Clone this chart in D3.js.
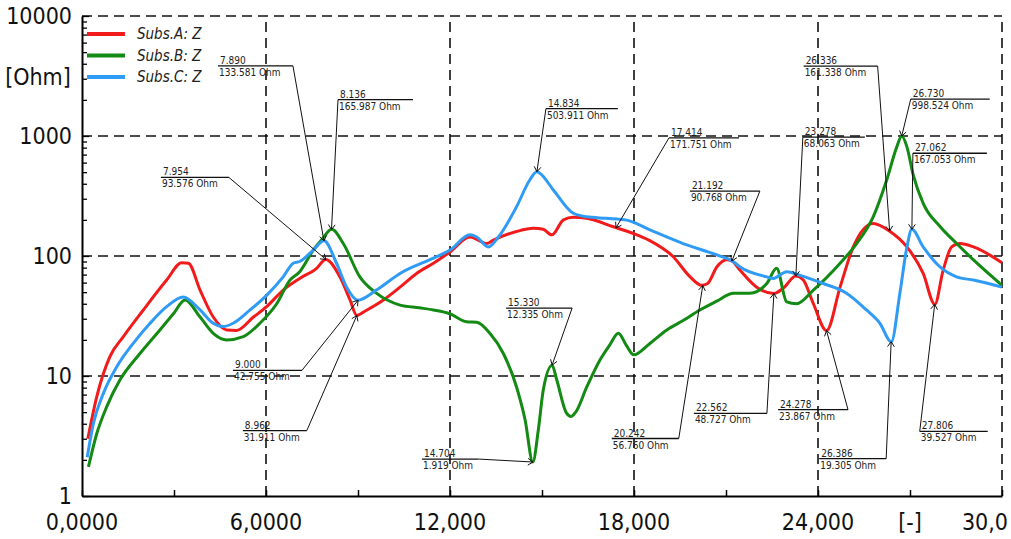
<!DOCTYPE html>
<html>
<head>
<meta charset="utf-8">
<script src="https://cdn.jsdelivr.net/npm/d3@7"></script>
<style>
  body { margin: 0; background: #fff; }
  svg { display: block; }
</style>
</head>
<body>
<div id="chart"></div>
<script>
// series: frequency [-] and impedance [Ohm]
const xA = [0.19,0.48,0.91,1.35,2.0,2.76,3.25,3.47,3.85,4.28,4.72,5.04,5.59,6.02,6.56,7.1,7.65,7.95,8.41,8.74,8.96,9.25,9.83,10.37,10.91,11.46,12.0,12.65,13.2,13.4,14.17,14.72,15.04,15.32,15.7,16.02,16.46,17.3,17.98,18.5,19.28,19.83,20.2,20.4,20.7,21.02,21.19,21.46,22.0,22.56,22.87,23.28,23.52,23.85,24.28,24.72,25.15,25.8,26.34,26.9,27.43,27.81,28.08,28.36,28.63,29.07,30.0];
const zA = [3.0,6.7,14.5,21.3,35.5,63,88,87,52,31,24.2,24,31,37.8,52,65,79,93.6,67,43,32,35,43,55,71.5,87,108,144,127,135,160,170,167,150,200,210,206,176,154,135,98.6,67,57,59,81,93,91,76,55,48.7,54,68,63,40,23.9,55,119,187,161,119,71.5,39.5,76,119,127,119,88];

const xB = [0.21,0.48,0.8,1.24,1.89,2.54,2.98,3.36,3.85,4.28,4.72,5.26,5.8,6.35,6.78,7.1,7.54,7.85,8.14,8.52,9.06,9.6,10.37,11.0,11.46,12.0,12.54,12.87,13.3,13.74,14.17,14.45,14.7,14.88,15.04,15.33,15.48,15.8,15.95,16.1,16.46,16.89,17.2,17.49,17.75,17.99,18.5,19.07,19.6,20.15,20.7,21.24,21.78,22.33,22.65,22.98,23.3,23.85,24.72,25.26,25.8,26.24,26.57,26.73,26.9,27.1,27.43,27.98,28.52,29.07,30.0];
const zB = [1.75,3.3,5.5,9.3,15.4,24.2,33,43,31,22.7,20,21.3,27.5,40,63,74,112,140,167,127,67,49,39,37,35.5,33,28.3,28,22.7,15.4,8.1,4.3,1.92,3.55,7.6,12.3,9.3,4.9,4.6,5.0,8.1,13.6,18,22.7,18,15,18.5,24.2,29,35.5,42,49,49,59,79,41.5,40,52,87,127,212,430,812,1000,812,480,275,176,127,92.8,57];

const xC = [0.17,0.37,0.7,1.13,1.67,2.22,2.76,3.3,3.85,4.28,4.6,4.93,5.48,6.02,6.56,6.89,7.1,7.54,7.89,8.3,8.63,9.0,9.6,10.37,11.46,12.0,12.65,12.87,13.25,13.58,14.17,14.6,14.83,14.93,15.37,16.02,16.46,17.1,17.76,18.52,19.6,20.7,21.24,21.46,22.33,22.54,22.98,23.41,24.17,24.93,25.58,26.02,26.39,26.67,26.9,27.06,27.43,27.98,28.52,29.07,30.0];
const zC = [2.1,4.0,7.2,11.9,18.7,27.5,37.8,45.6,35.5,27.5,25.8,27.5,35.5,47,67,87,90,112,134,87,55,42.8,52,71.5,96,112,150,144,119,144,257,430,504,490,355,227,212,206,199,165,127,102,89.5,81,67,65,74,69,59,49,35.5,27.5,19.3,49,119,167,119,81,67,63,55];

const seriesNames = ["Subs.A: Z", "Subs.B: Z", "Subs.C: Z"];
const seriesColors = ["#f21b1b", "#138a13", "#2f9bf5"];

// cursor readouts: series index, x, Z
const noteSeries = [2,1,0,2,0,2,0,0,1,2,2,0,1,1,0,0,0,2,0];
const noteX = [7.890,8.136,7.954,14.834,17.414,21.192,23.278,26.336,26.730,27.062,9.000,8.962,14.704,15.330,20.242,22.562,24.278,26.386,27.806];
const noteZ = [133.581,165.987,93.576,503.911,171.751,90.768,68.063,161.338,998.524,167.053,42.755,31.911,1.919,12.335,56.760,48.727,23.867,19.305,39.527];

const yTicks = [1, 10, 100, 1000, 10000];
const xTickVals = [0, 6, 12, 18, 24, 27, 30];
const xTickLabels = ["0,0000", "6,0000", "12,000", "18,000", "24,000", "[-]", "30,0"];

// label placement: offset of leader attach point from data point, underline width, side
const noteLayout = [
  [-31,-175,75,"r"],[6.5,-130,75,"l"],[-97,-82,68,"r"],[9,-63,72,"l"],[53,-90,70,"l"],
  [28,-70,70,"r"],[7,-139,62,"l"],[-12,-165,74,"r"],[9,-37,79,"l"],[1,-76,74,"l"],
  [-56,70,69,"r"],[-50,115,64,"r"],[-55,-3,56,"r"],[20,-57,66,"r"],[-24,153,67,"r"],
  [-7,120,73,"r"],[21.5,79,70,"r"],[-5,117,67,"r"],[-15,127,68,"l"]
];

const bigFont = "'DejaVu Sans Condensed', sans-serif";
const smallFont = "'DejaVu Sans Condensed', sans-serif";

const W = 1011, H = 539;
const margin = { top: 16, right: 9, bottom: 43, left: 82 };

const svg = d3.select('#chart').append('svg')
  .attr('width', W)
  .attr('height', H);

const x = d3.scaleLinear().domain([0, 30]).range([margin.left, W - margin.right]);
const y = d3.scaleLog().domain([1, 10000]).range([H - margin.bottom, margin.top]);

// dashed grid
svg.append('g').selectAll('line.gx')
  .data([6, 12, 18, 24, 30])
  .enter().append('line')
  .attr('x1', d => x(d)).attr('x2', d => x(d))
  .attr('y1', y(1)).attr('y2', y(10000))
  .attr('stroke', '#111').attr('stroke-width', 1.6)
  .attr('stroke-dasharray', '10,6');

svg.append('g').selectAll('line.gy')
  .data(yTicks.slice(1))
  .enter().append('line')
  .attr('x1', x(0)).attr('x2', x(30))
  .attr('y1', d => y(d)).attr('y2', d => y(d))
  .attr('stroke', '#111').attr('stroke-width', 1.6)
  .attr('stroke-dasharray', '10,6');

// y axis with log minor ticks
const yAxis = svg.append('g')
  .attr('transform', `translate(${margin.left},0)`)
  .call(d3.axisLeft(y).tickValues(y.ticks()).tickSizeInner(-5).tickSizeOuter(0).tickFormat(''));
yAxis.select('.domain').attr('stroke-width', 2);
yAxis.selectAll('.tick line').attr('stroke-width', 1.3);
yAxis.selectAll('.tick').filter(d => yTicks.includes(d)).select('line').attr('x2', 7);

svg.append('g').selectAll('text')
  .data(yTicks)
  .enter().append('text')
  .attr('x', 72).attr('y', d => y(d))
  .attr('dy', '0.36em')
  .attr('text-anchor', 'end')
  .attr('font-family', bigFont).attr('font-size', 23)
  .attr('fill', '#111')
  .text(d => d);

svg.append('text')
  .attr('x', 38).attr('y', 77).attr('dy', '0.36em')
  .attr('text-anchor', 'middle')
  .attr('font-family', bigFont).attr('font-size', 23)
  .attr('fill', '#111')
  .text('[Ohm]');

// x axis
const xAxis = svg.append('g')
  .attr('transform', `translate(0,${y(1)})`)
  .call(d3.axisBottom(x).tickValues(d3.range(0, 31, 3)).tickSizeInner(-6).tickSizeOuter(0).tickFormat(''));
xAxis.select('.domain').attr('stroke-width', 2);
xAxis.selectAll('.tick line').attr('stroke-width', 1.5);

svg.append('g').selectAll('text')
  .data(xTickVals)
  .enter().append('text')
  .attr('x', (d, i) => i === xTickVals.length - 1 ? W - 3 : x(d))
  .attr('y', y(1) + 26).attr('dy', '0.36em')
  .attr('text-anchor', (d, i) => i === xTickVals.length - 1 ? 'end' : 'middle')
  .attr('font-family', bigFont).attr('font-size', 23)
  .attr('fill', '#111')
  .text((d, i) => xTickLabels[i]);

// curves
const line = d3.line()
  .x(d => x(d[0]))
  .y(d => y(d[1]))
  .curve(d3.curveMonotoneX);

const series = [
  d3.zip(xA, zA),
  d3.zip(xB, zB),
  d3.zip(xC, zC)
];

svg.append('g').selectAll('path')
  .data(series)
  .enter().append('path')
  .attr('d', line)
  .attr('fill', 'none')
  .attr('stroke', (d, i) => seriesColors[i])
  .attr('stroke-width', 3)
  .attr('stroke-linejoin', 'round');

// legend
const legend = svg.append('g').selectAll('g')
  .data(seriesNames)
  .enter().append('g')
  .attr('transform', (d, i) => `translate(87,${34 + i * 21.5})`);
legend.append('line')
  .attr('x1', 0).attr('x2', 38)
  .attr('stroke', (d, i) => seriesColors[i])
  .attr('stroke-width', 4);
legend.append('text')
  .attr('x', 50).attr('dy', '0.36em')
  .attr('font-family', smallFont).attr('font-size', 15)
  .attr('font-style', 'italic')
  .attr('fill', '#222')
  .text(d => d);

// cursor notes
const fmt = d3.format('.3f');
const notes = svg.append('g').selectAll('g')
  .data(noteX)
  .enter().append('g')
  .each(function(d, i) {
    const g = d3.select(this);
    const px = x(noteX[i]), py = y(noteZ[i]);
    const [dx, dy, w, side] = noteLayout[i];
    const ax = px + dx, ay = py + dy;
    const x0 = side === 'r' ? ax - w : ax;
    const x1 = side === 'r' ? ax : ax + w;

    g.append('line')
      .attr('x1', x0).attr('x2', x1)
      .attr('y1', ay).attr('y2', ay)
      .attr('stroke', '#111').attr('stroke-width', 1.3);
    g.append('line')
      .attr('x1', ax).attr('y1', ay)
      .attr('x2', px).attr('y2', py)
      .attr('stroke', '#111').attr('stroke-width', 1);

    // small arrow head at the point
    const ang = Math.atan2(ay - py, ax - px);
    [0.6, -0.6].forEach(a => {
      g.append('line')
        .attr('x1', px).attr('y1', py)
        .attr('x2', px + 6 * Math.cos(ang + a))
        .attr('y2', py + 6 * Math.sin(ang + a))
        .attr('stroke', '#111').attr('stroke-width', 1);
    });

    g.append('text')
      .attr('x', x0 + 2).attr('y', ay - 2)
      .attr('font-family', smallFont).attr('font-size', 10)
      .attr('fill', '#222')
      .text(fmt(noteX[i]));
    g.append('text')
      .attr('x', x0 + 1).attr('y', ay + 10)
      .attr('font-family', smallFont).attr('font-size', 10)
      .attr('fill', '#222')
      .text(fmt(noteZ[i]) + ' Ohm');
  });
</script>
</body>
</html>
